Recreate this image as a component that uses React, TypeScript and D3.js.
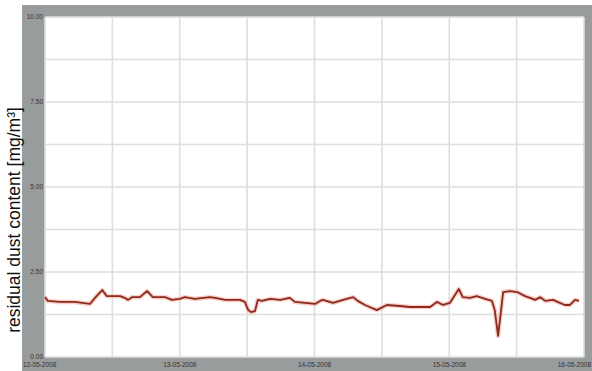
import React from "react";
import * as d3 from "d3";

// Hours elapsed since 12-05-2008 00:00 and the measured residual dust content
const hours = [
  0, 0.5, 2.7, 5.3, 8, 8.9, 10.2, 11, 12.5, 13.4, 14.2, 14.8, 15.5, 16.9, 18.2, 19.2, 21.4, 22.6,
  24, 24.9, 26.7, 29.4, 30.3, 32.1, 34.7, 35.6, 36.2, 36.7, 37.4, 37.9, 38.6, 40.1, 41.9, 43.6,
  44.5, 46.3, 48.1, 49, 49.5, 51.3, 53.1, 54.9, 55.7, 57, 59.1, 60.9, 63.2, 65, 68.6, 69.8, 70.9,
  72.1, 73.7, 74.4, 75.7, 76.9, 78.4, 79.6, 80.1, 80.7, 81.6, 82.8, 84.1, 85.5, 86.4, 87.3, 88.2,
  89.1, 90.5, 91.7, 92.6, 93.5, 94.4, 95.1,
];
const dust = [
  1.76, 1.65, 1.62, 1.62, 1.56, 1.74, 1.97, 1.79, 1.79, 1.79, 1.74, 1.68, 1.76, 1.76, 1.94, 1.76,
  1.76, 1.68, 1.71, 1.76, 1.71, 1.76, 1.74, 1.68, 1.68, 1.62, 1.38, 1.32, 1.35, 1.68, 1.65, 1.71,
  1.68, 1.74, 1.62, 1.59, 1.56, 1.65, 1.68, 1.59, 1.68, 1.76, 1.65, 1.53, 1.38, 1.53, 1.5, 1.47,
  1.47, 1.62, 1.53, 1.59, 2.0, 1.76, 1.74, 1.79, 1.71, 1.65, 1.38, 0.62, 1.91, 1.94, 1.91, 1.79,
  1.74, 1.68, 1.76, 1.65, 1.68, 1.59, 1.53, 1.53, 1.68, 1.65,
];
const yTickLabels = ["0.00", "2.50", "5.00", "7.50", "10.00"];
const dayLabels = ["12-05-2008", "13-05-2008", "14-05-2008", "15-05-2008", "16-05-2008"];
const yTitle = "residual dust content [mg/m³]";

const W = 592;
const H = 371;
const frame = { left: 22, top: 5 };
const plot = { left: 45, top: 17, right: 584, bottom: 357 };

export default function App() {
  const start = new Date(2008, 4, 12, 0, 0);
  const end = new Date(2008, 4, 16, 0, 0);
  const x = d3.scaleTime().domain([start, end]).range([plot.left, plot.right]);
  const y = d3.scaleLinear().domain([0, 10]).range([plot.bottom, plot.top]);

  const pts = hours.map((h, i) => ({ t: start.getTime() + h * 3600000, v: dust[i] }));
  const line = d3
    .line<{ t: number; v: number }>()
    .x((d) => x(new Date(d.t)))
    .y((d) => y(d.v));
  const path = line(pts) || "";

  const hGrid = d3.range(0, 10.01, 1.25);
  const vGrid = d3.timeHour.every(12)!.range(start, d3.timeHour.offset(end, 1));
  const days = d3.timeDay.range(start, d3.timeHour.offset(end, 1));

  return (
    <svg
      width={W}
      height={H}
      style={{ position: "absolute", left: 0, top: 0, display: "block" }}
      fontFamily="Liberation Sans, Arial, sans-serif"
    >
      <rect x={0} y={0} width={W} height={H} fill="#ffffff" />
      <rect x={frame.left} y={frame.top} width={W - frame.left} height={H - frame.top} fill="#999c9c" />
      <rect
        x={plot.left}
        y={plot.top}
        width={plot.right - plot.left}
        height={plot.bottom - plot.top}
        fill="#ffffff"
      />
      {hGrid.map((v) => (
        <line
          key={"h" + v}
          x1={plot.left}
          x2={plot.right}
          y1={y(v)}
          y2={y(v)}
          stroke="#dedede"
          strokeWidth={1.6}
        />
      ))}
      {vGrid.map((d) => (
        <line
          key={"v" + d.getTime()}
          x1={x(d)}
          x2={x(d)}
          y1={plot.top}
          y2={plot.bottom}
          stroke="#dedede"
          strokeWidth={1.6}
        />
      ))}
      <path d={path} fill="none" stroke="#f3b0a4" strokeWidth={4.5} strokeOpacity={0.6} strokeLinejoin="round" />
      <path d={path} fill="none" stroke="#8c2a20" strokeWidth={1.8} strokeLinejoin="round" />
      {yTickLabels.map((s, i) => (
        <text
          key={s}
          x={plot.left - 2}
          y={y(i * 2.5)}
          dy="0.35em"
          fontSize={6.5}
          textAnchor="end"
          fill="#333"
        >
          {s}
        </text>
      ))}
      {days.map((d, i) => {
        const last = i === days.length - 1;
        const first = i === 0;
        return (
          <text
            key={dayLabels[i]}
            x={last ? W - 1 : first ? frame.left + 1 : x(d)}
            y={367}
            fontSize={6.5}
            textAnchor={last ? "end" : first ? "start" : "middle"}
            fill="#333"
          >
            {dayLabels[i]}
          </text>
        );
      })}
      <text
        transform={`translate(14, ${(y(0) + y(10)) / 2 + 33}) rotate(-90)`}
        textAnchor="middle"
        dy="0.35em"
        fontSize={17.5}
        fill="#111"
      >
        {yTitle}
      </text>
    </svg>
  );
}
